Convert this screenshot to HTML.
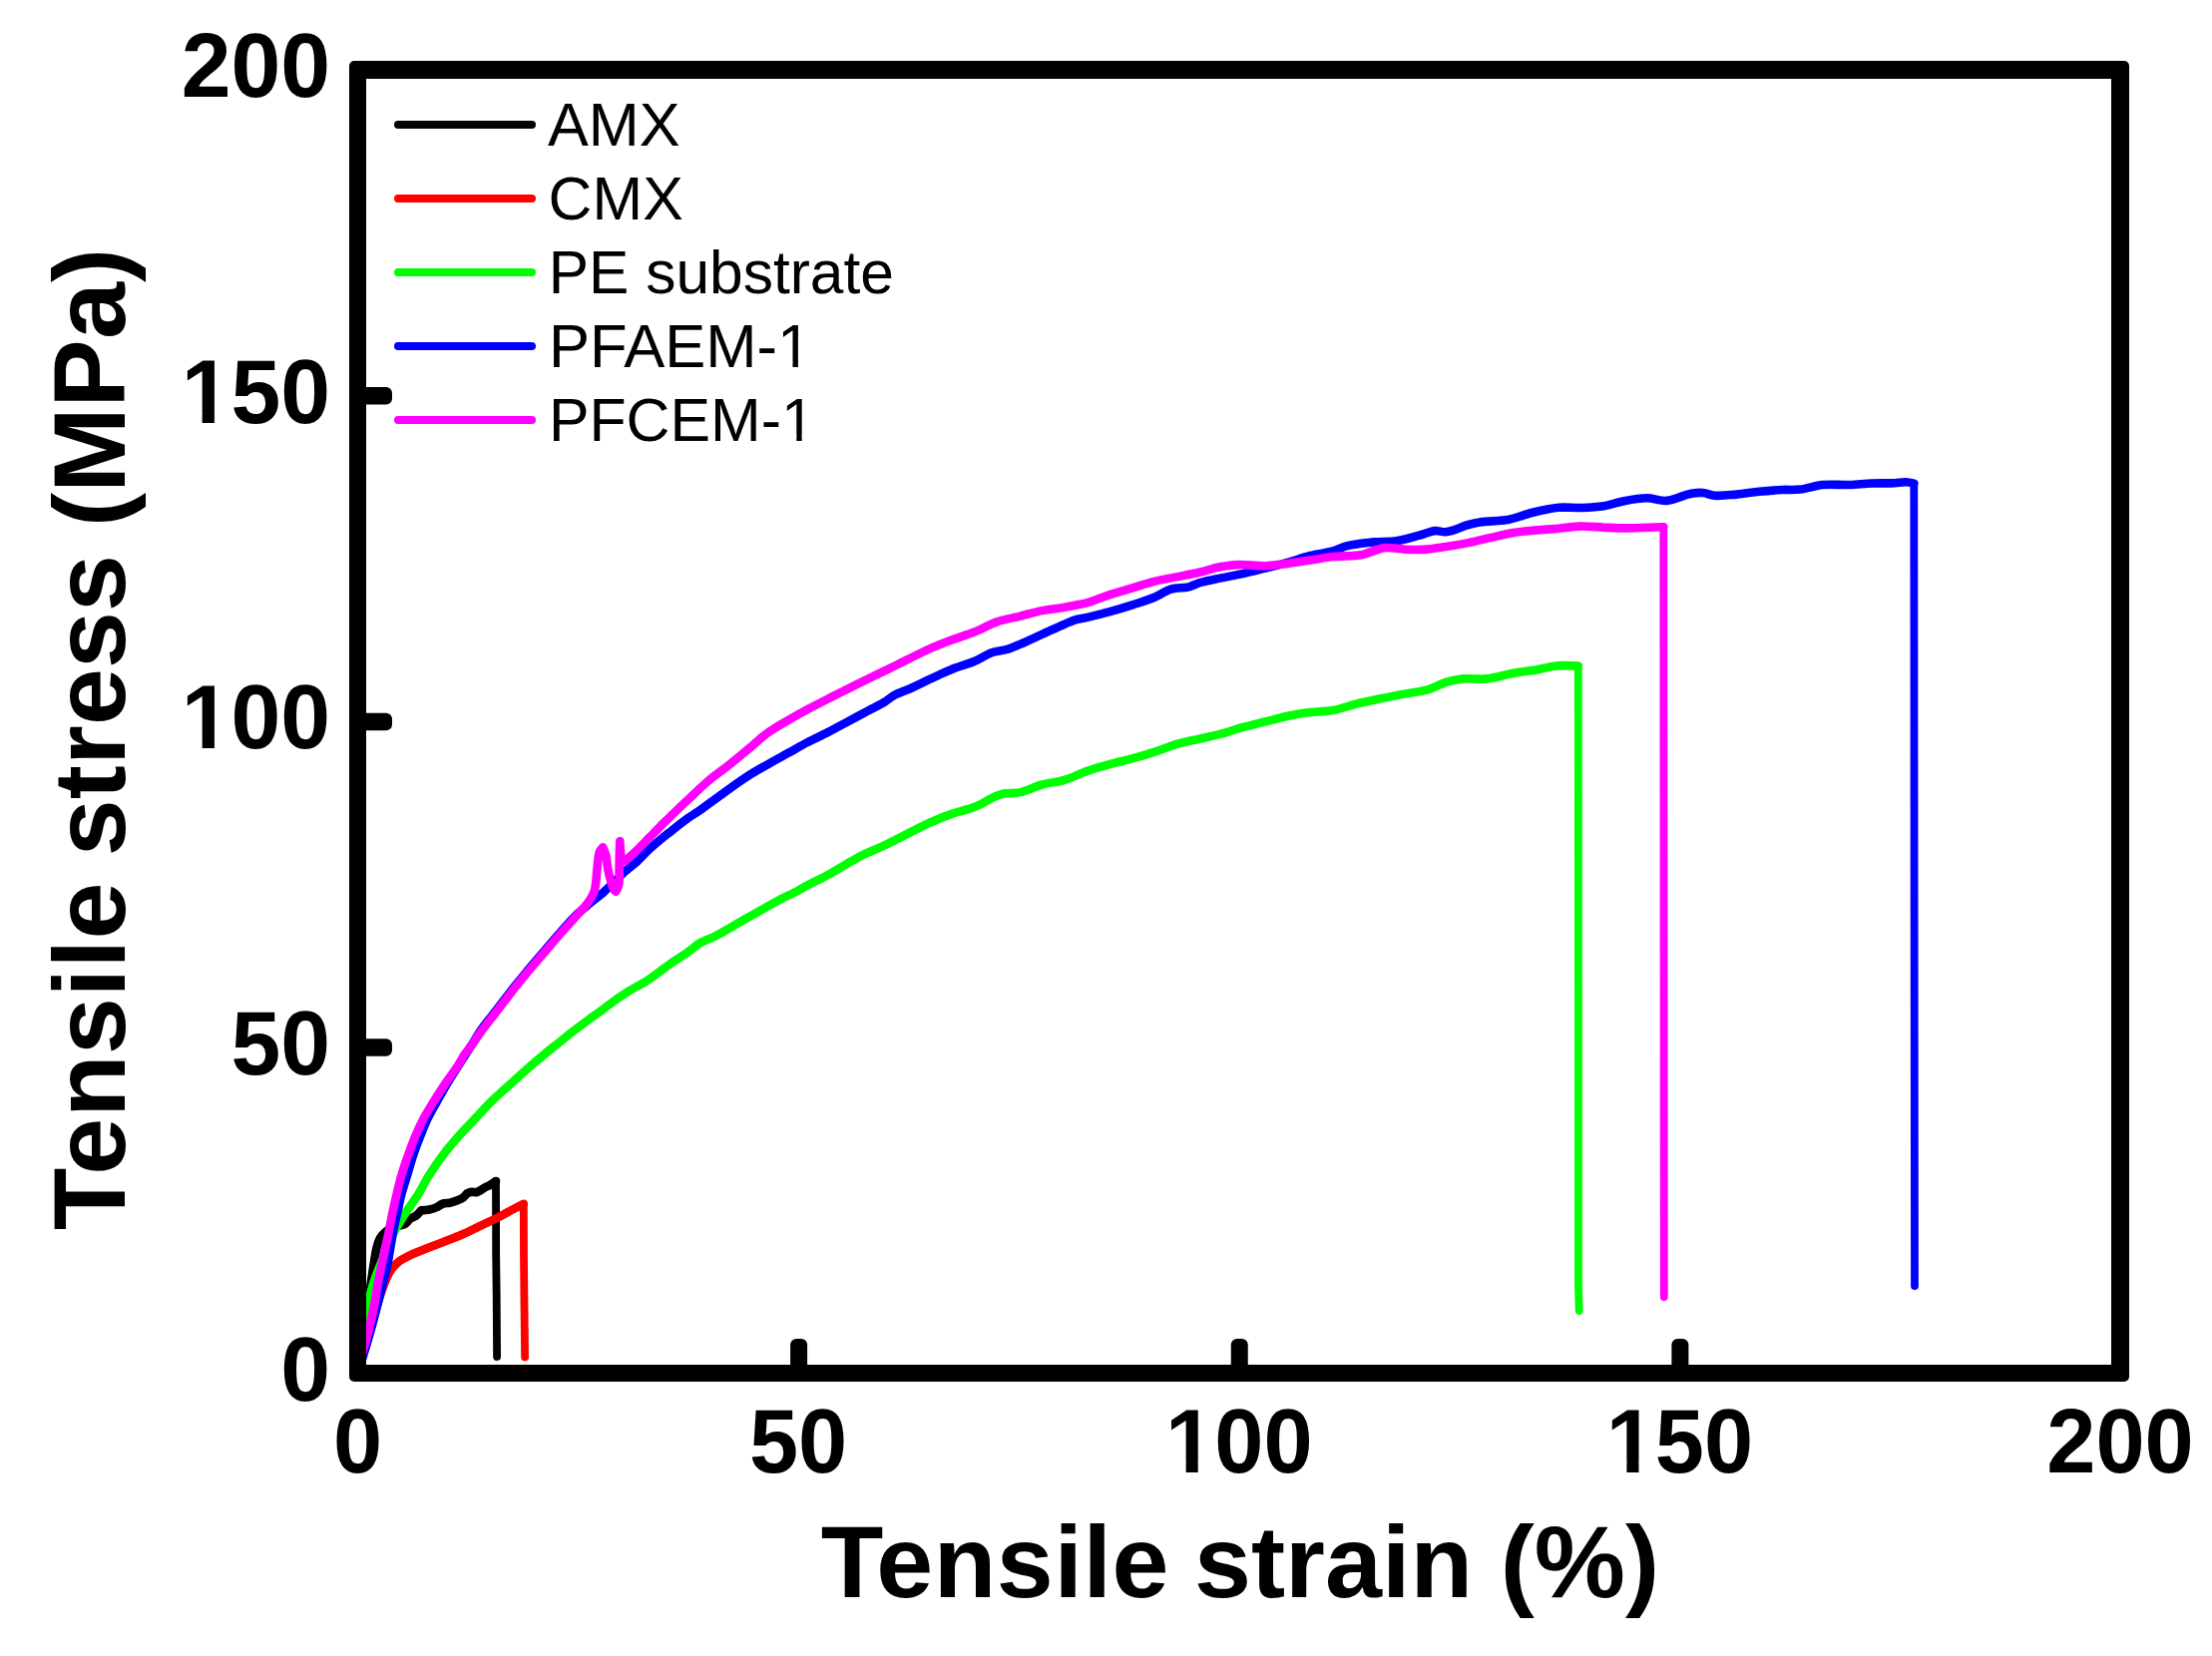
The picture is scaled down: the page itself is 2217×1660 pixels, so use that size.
<!DOCTYPE html>
<html><head><meta charset="utf-8"><title>Tensile stress-strain</title>
<style>html,body{margin:0;padding:0;background:#fff}svg{display:block}text{font-family:"Liberation Sans",sans-serif;fill:#000}.b{font-weight:bold}</style></head><body>
<svg width="2217" height="1660" viewBox="0 0 2217 1660">
<rect width="2217" height="1660" fill="#fff"/>
<defs><clipPath id="c"><rect x="358.5" y="70.0" width="1766.5" height="1306.5"/></clipPath></defs>
<g clip-path="url(#c)" fill="none" stroke-width="8.6" stroke-linejoin="round" stroke-linecap="round">
<path d="M358.5 1376.5 C358.5 1376.5 362.8 1346.8 365.0 1332.0 C367.2 1316.9 369.5 1301.9 371.7 1286.8 C372.6 1280.8 373.4 1274.7 374.4 1268.7 C375.4 1262.7 376.1 1256.5 377.6 1250.6 C378.4 1247.5 379.2 1244.3 380.7 1241.5 C381.8 1239.5 383.2 1237.6 384.9 1236.1 C387.0 1234.2 389.5 1232.7 392.0 1231.5 C394.2 1230.4 396.6 1229.8 399.0 1229.0 C401.2 1228.3 403.7 1228.2 405.7 1227.0 C407.9 1225.7 409.1 1223.1 411.2 1221.6 C412.8 1220.4 415.0 1220.1 416.6 1218.9 C418.7 1217.4 422.0 1213.4 422.0 1213.4 C422.0 1213.4 427.5 1213.1 430.2 1212.5 C433.0 1211.9 435.7 1211.0 438.3 1209.8 C440.2 1208.9 441.8 1207.3 443.8 1206.6 C446.1 1205.8 448.6 1206.2 451.0 1205.7 C453.8 1205.1 456.5 1204.1 459.2 1203.0 C460.7 1202.4 462.3 1201.8 463.7 1200.8 C465.4 1199.5 468.2 1196.2 468.2 1196.2 C468.2 1196.2 471.2 1195.0 472.8 1194.9 C474.3 1194.8 477.3 1195.3 477.3 1195.3 C477.3 1195.3 480.3 1193.9 481.8 1193.1 C483.3 1192.2 484.8 1191.1 486.3 1190.3 C487.8 1189.5 489.4 1188.9 490.9 1188.1 C493.0 1186.9 497.0 1184.0 497.0 1184.0" stroke="#000000"/>
<path d="M497.0 1184.0 L497.2 1260.0 L497.7 1300.0 L498.1 1360.0" stroke="#000000" stroke-width="7.8"/>
<path d="M358.5 1376.5 C358.5 1376.5 362.2 1364.2 364.0 1358.0 C366.7 1348.7 369.4 1339.3 372.0 1330.0 C374.4 1321.7 376.5 1313.3 379.0 1305.0 C380.5 1300.0 382.2 1294.9 384.0 1290.0 C385.4 1286.3 386.7 1282.5 388.5 1279.0 C389.8 1276.4 391.2 1273.7 393.0 1271.4 C395.1 1268.7 397.6 1266.2 400.3 1264.2 C403.0 1262.1 406.2 1260.7 409.3 1259.2 C415.2 1256.3 421.4 1254.0 427.5 1251.5 C433.5 1249.1 439.6 1246.9 445.6 1244.5 C451.7 1242.1 457.7 1239.8 463.7 1237.2 C469.8 1234.5 475.8 1231.5 481.8 1228.6 C487.8 1225.7 493.9 1223.0 499.9 1220.0 C506.0 1216.9 511.9 1213.4 518.0 1210.2 C520.2 1209.0 524.8 1206.8 524.8 1206.8" stroke="#ff0000"/>
<path d="M524.8 1206.8 L525.0 1260.0 L525.4 1300.0 L526.1 1360.5" stroke="#ff0000" stroke-width="7.8"/>
<path d="M358.5 1376.5 C358.5 1376.5 365.0 1324.5 370.8 1299.0 C372.2 1292.9 374.1 1286.9 376.1 1281.0 C377.8 1275.9 380.0 1271.0 382.0 1266.0 C385.9 1256.3 389.3 1246.4 394.0 1237.0 C397.9 1229.1 402.8 1221.7 407.5 1214.3 C411.4 1208.1 416.0 1202.4 419.8 1196.2 C423.1 1190.8 425.7 1184.9 429.1 1179.5 C434.0 1171.7 439.2 1164.1 444.8 1156.8 C449.4 1150.8 454.3 1145.1 459.3 1139.4 C465.0 1132.9 471.1 1126.8 477.0 1120.5 C482.6 1114.5 488.1 1108.4 494.0 1102.7 C500.5 1096.4 507.4 1090.5 514.1 1084.4 C521.7 1077.6 529.3 1070.8 537.0 1064.1 C539.6 1061.8 542.3 1059.5 545.0 1057.3 C548.6 1054.3 552.3 1051.4 556.0 1048.5 C562.3 1043.5 568.6 1038.3 575.0 1033.4 C581.5 1028.4 588.0 1023.6 594.6 1018.8 C598.0 1016.3 601.6 1013.9 605.0 1011.3 C606.7 1010.0 608.3 1008.6 610.0 1007.4 C616.5 1002.6 623.2 998.0 630.0 993.7 C636.5 989.6 643.6 986.3 650.0 982.1 C656.9 977.6 663.2 972.2 670.0 967.4 C676.6 962.8 683.5 958.7 690.0 954.0 C693.8 951.3 697.2 947.9 701.2 945.5 C706.2 942.5 711.8 940.9 717.0 938.3 C718.0 937.8 719.0 937.2 720.0 936.7 C726.7 933.0 733.3 929.1 740.0 925.3 C746.7 921.5 753.3 917.7 760.0 913.9 C766.7 910.1 773.2 906.3 780.0 902.7 C786.6 899.2 793.4 896.2 800.0 892.7 C802.6 891.3 805.0 889.7 807.6 888.3 C815.1 884.3 822.9 880.9 830.3 876.8 C838.0 872.6 845.3 867.8 852.9 863.5 C856.3 861.6 859.7 859.6 863.2 857.8 C870.6 854.1 878.4 851.2 885.9 847.6 C893.5 844.0 901.0 840.1 908.5 836.3 C916.1 832.5 923.5 828.5 931.2 825.0 C938.6 821.7 946.1 818.6 953.8 815.9 C961.2 813.3 969.1 812.0 976.4 809.1 C984.3 806.0 991.3 801.0 999.1 797.8 C1001.3 796.9 1003.6 796.0 1005.9 795.5 C1011.1 794.5 1016.5 795.5 1021.7 794.4 C1029.5 792.8 1036.7 788.6 1044.4 786.5 C1051.8 784.5 1059.6 784.1 1067.0 781.9 C1074.8 779.6 1082.0 775.6 1089.7 772.9 C1097.1 770.3 1104.7 768.2 1112.3 766.1 C1119.8 764.0 1127.5 762.5 1135.0 760.4 C1142.6 758.3 1150.1 756.0 1157.6 753.6 C1165.2 751.1 1172.6 747.9 1180.3 745.7 C1187.7 743.6 1195.4 742.2 1202.9 740.5 C1209.5 739.0 1216.1 737.6 1222.6 735.9 C1230.2 733.9 1237.7 731.2 1245.3 729.1 C1252.8 727.0 1260.4 725.3 1267.9 723.4 C1275.5 721.5 1283.0 719.5 1290.6 717.8 C1296.6 716.5 1302.6 715.2 1308.7 714.4 C1317.7 713.2 1326.9 713.7 1335.9 712.1 C1343.6 710.7 1350.9 707.7 1358.5 705.8 C1366.0 703.9 1373.6 702.4 1381.2 700.8 C1388.7 699.2 1396.3 697.8 1403.8 696.3 C1413.6 694.4 1423.7 693.5 1433.2 690.6 C1438.7 688.9 1443.6 685.5 1449.1 683.8 C1455.0 682.0 1461.1 681.0 1467.2 680.4 C1474.7 679.7 1482.4 681.2 1489.9 680.4 C1499.1 679.5 1507.9 676.4 1517.0 674.8 C1524.5 673.5 1532.2 672.6 1539.7 671.4 C1547.3 670.1 1554.7 667.9 1562.3 667.3 C1568.8 666.8 1581.8 667.6 1581.8 667.6" stroke="#00ff00"/>
<path d="M1581.8 667.6 L1582.0 1000.0 L1582.0 1290.0 L1582.7 1314.0" stroke="#00ff00" stroke-width="7.8"/>
<path d="M358.5 1376.5 C358.5 1376.5 361.9 1365.8 363.6 1360.4 C366.4 1351.4 369.2 1342.3 371.7 1333.2 C374.2 1324.2 376.5 1315.1 378.8 1306.1 C380.4 1299.7 382.0 1293.2 383.6 1286.8 C385.1 1280.8 386.9 1274.8 388.2 1268.7 C389.5 1262.7 390.3 1256.6 391.3 1250.6 C392.4 1244.6 393.3 1238.5 394.5 1232.5 C395.7 1226.4 397.2 1220.4 398.6 1214.3 C399.9 1208.3 401.0 1202.2 402.6 1196.2 C404.1 1190.6 406.0 1185.1 407.7 1179.5 C410.0 1171.9 412.0 1164.3 414.5 1156.8 C416.6 1150.7 418.9 1144.7 421.3 1138.7 C423.7 1132.6 426.0 1126.5 428.9 1120.6 C431.9 1114.4 435.5 1108.5 438.9 1102.5 C442.3 1096.4 445.7 1090.3 449.3 1084.3 C453.0 1078.2 456.9 1072.2 460.7 1066.2 C464.6 1060.1 468.6 1054.2 472.4 1048.1 C475.4 1043.4 478.0 1038.5 481.1 1033.9 C485.7 1027.2 491.0 1021.0 495.9 1014.6 C500.9 1008.1 505.8 1001.7 510.8 995.2 C513.4 991.9 515.9 988.6 518.5 985.3 C521.1 982.1 523.7 979.0 526.3 975.9 C531.7 969.4 537.2 963.0 542.7 956.6 C548.2 950.2 553.6 943.7 559.2 937.3 C564.9 930.9 570.4 924.2 576.5 918.2 C580.8 914.0 585.4 910.3 590.0 906.5 C595.0 902.3 600.2 898.5 605.1 894.2 C612.7 887.5 619.4 879.8 627.0 873.0 C630.5 869.8 634.5 867.2 638.0 864.0 C642.2 860.2 645.9 855.9 650.0 852.0 C654.4 847.9 659.0 844.0 663.6 840.2 C665.7 838.5 667.9 836.9 670.0 835.2 C676.6 830.0 683.2 824.7 690.0 819.8 C693.3 817.5 696.7 815.5 700.0 813.2 C703.4 810.9 706.7 808.4 710.0 806.0 C716.7 801.2 723.3 796.3 730.0 791.5 C736.6 786.8 743.2 782.1 750.0 777.7 C756.5 773.5 763.3 769.7 770.0 765.9 C776.6 762.1 783.3 758.5 790.0 754.8 C796.7 751.1 803.3 747.3 810.0 743.8 C816.6 740.4 823.4 737.3 830.0 733.9 C836.7 730.4 843.3 726.8 850.0 723.2 C856.7 719.6 863.3 716.1 870.0 712.5 C875.3 709.7 880.8 707.1 886.0 704.0 C889.8 701.7 893.1 698.6 897.0 696.5 C900.6 694.5 904.7 693.5 908.5 691.8 C916.2 688.5 923.6 684.7 931.2 681.2 C938.7 677.8 946.1 674.1 953.8 671.0 C961.2 668.0 969.0 666.1 976.4 663.0 C982.6 660.4 988.2 656.2 994.6 654.0 C999.7 652.2 1005.2 652.2 1010.4 650.6 C1014.3 649.4 1018.0 647.7 1021.7 646.1 C1029.3 642.9 1036.8 639.3 1044.4 635.9 C1051.9 632.5 1059.4 628.9 1067.0 625.7 C1070.8 624.1 1074.5 622.3 1078.4 621.1 C1082.1 620.0 1086.0 619.7 1089.7 618.9 C1097.3 617.2 1104.8 615.3 1112.3 613.2 C1119.9 611.1 1127.5 608.8 1135.0 606.4 C1142.6 603.9 1150.2 601.6 1157.6 598.5 C1163.1 596.2 1167.8 592.3 1173.5 590.6 C1179.3 588.8 1185.7 589.8 1191.6 588.3 C1195.5 587.3 1199.0 585.2 1202.9 584.0 C1209.3 582.1 1216.0 581.0 1222.6 579.6 C1230.1 578.0 1237.8 576.8 1245.3 575.1 C1252.9 573.4 1260.4 571.4 1267.9 569.5 C1275.5 567.6 1283.1 565.9 1290.6 563.8 C1298.2 561.7 1305.6 558.9 1313.2 557.0 C1320.7 555.1 1328.5 554.6 1335.9 552.5 C1340.6 551.2 1344.8 548.5 1349.5 547.3 C1358.3 545.0 1367.5 544.3 1376.6 543.4 C1384.1 542.7 1391.8 543.4 1399.3 542.3 C1408.5 540.9 1417.4 538.0 1426.4 535.5 C1430.2 534.5 1433.9 532.5 1437.8 532.1 C1441.6 531.7 1445.3 533.6 1449.1 533.2 C1457.0 532.4 1464.1 528.0 1471.7 526.0 C1475.5 525.0 1479.3 524.1 1483.1 523.5 C1492.8 522.0 1502.8 522.7 1512.5 520.8 C1520.2 519.3 1527.5 515.9 1535.1 514.0 C1544.1 511.8 1553.1 509.6 1562.3 508.8 C1569.8 508.1 1577.4 509.3 1585.0 509.0 C1592.6 508.7 1600.1 508.4 1607.6 507.2 C1613.7 506.2 1619.6 503.9 1625.7 502.7 C1633.9 501.1 1642.2 499.3 1650.6 499.3 C1657.3 499.3 1663.8 502.4 1670.4 501.9 C1679.0 501.2 1686.8 496.2 1695.3 494.7 C1699.0 494.1 1702.8 493.7 1706.6 494.0 C1710.5 494.3 1714.0 496.3 1717.9 496.7 C1725.4 497.4 1733.1 496.2 1740.6 495.6 C1748.2 494.9 1755.6 493.6 1763.2 492.8 C1770.8 492.0 1778.3 491.4 1785.9 491.0 C1791.9 490.7 1798.0 491.3 1804.0 490.6 C1811.6 489.7 1819.0 486.8 1826.6 486.0 C1835.6 485.1 1844.7 486.3 1853.8 486.0 C1861.3 485.7 1868.9 484.8 1876.4 484.5 C1884.0 484.2 1891.5 484.6 1899.1 484.2 C1902.9 484.0 1906.6 483.1 1910.4 483.3 C1913.1 483.4 1918.3 484.6 1918.3 484.6" stroke="#0000ff"/>
<path d="M1918.3 484.6 L1918.6 900.0 L1919.0 1289.0" stroke="#0000ff" stroke-width="7.8"/>
<path d="M358.5 1376.5 C358.5 1376.5 361.8 1362.1 363.6 1355.0 C365.5 1347.7 367.8 1340.5 369.6 1333.2 C371.8 1324.2 373.8 1315.2 375.5 1306.1 C376.7 1299.7 377.5 1293.2 378.7 1286.8 C379.8 1280.7 381.1 1274.7 382.4 1268.7 C383.7 1262.7 385.1 1256.6 386.4 1250.6 C387.7 1244.6 388.9 1238.5 390.1 1232.5 C391.3 1226.4 392.4 1220.3 393.7 1214.3 C395.0 1208.2 396.4 1202.2 397.8 1196.2 C399.1 1190.6 400.4 1185.0 402.0 1179.5 C404.2 1171.8 406.8 1164.3 409.5 1156.8 C411.7 1150.7 413.9 1144.6 416.4 1138.7 C419.0 1132.6 421.8 1126.5 424.9 1120.6 C428.2 1114.4 432.0 1108.5 435.7 1102.5 C439.6 1096.3 443.6 1090.3 447.7 1084.3 C451.8 1078.2 456.3 1072.4 460.2 1066.2 C461.9 1063.5 463.2 1060.6 464.9 1058.0 C467.2 1054.5 470.0 1051.4 472.4 1048.1 C475.6 1043.7 478.6 1039.0 481.8 1034.6 C486.6 1028.1 491.7 1021.7 496.6 1015.3 C501.6 1008.8 506.5 1002.4 511.5 995.9 C514.1 992.6 516.6 989.3 519.2 986.0 C521.8 982.8 524.4 979.7 527.0 976.6 C532.4 970.1 537.9 963.7 543.4 957.3 C548.9 950.9 554.3 944.4 559.9 938.0 C565.6 931.5 571.4 925.0 577.2 918.6 C580.0 915.4 583.1 912.5 585.8 909.2 C587.9 906.7 589.9 904.2 591.6 901.4 C593.1 899.0 594.5 896.4 595.5 893.7 C596.3 891.5 596.5 889.3 596.9 887.0 C597.4 883.8 597.6 880.5 597.9 877.3 C598.4 872.5 598.7 867.6 599.3 862.8 C599.7 859.9 599.7 856.8 600.8 854.1 C601.6 852.3 604.2 849.3 604.2 849.3 C604.2 849.3 606.7 855.0 607.5 858.0 C608.4 861.8 608.3 865.8 609.0 869.6 C609.8 873.8 610.7 878.0 611.9 882.1 C612.7 885.0 613.3 888.1 614.8 890.8 C615.4 891.9 617.2 893.7 617.2 893.7 C617.2 893.7 619.6 889.4 620.1 887.0 C621.2 882.3 620.5 877.3 620.6 872.5 C620.7 867.7 620.7 862.8 620.8 858.0 C620.9 853.1 621.3 843.2 621.3 843.2 L622.3 858.0 L626.4 863.3 C626.4 863.3 634.2 856.3 638.0 852.7 C641.3 849.5 644.4 846.1 647.6 842.8 C650.0 840.3 652.6 837.9 655.0 835.4 C658.4 832.0 661.6 828.5 665.0 825.1 C668.3 821.8 671.7 818.7 675.0 815.5 C678.3 812.3 681.6 809.1 685.0 805.9 C688.3 802.7 691.7 799.6 695.0 796.5 C698.3 793.4 701.6 790.1 705.0 787.1 C708.3 784.2 711.6 781.4 715.0 778.7 C719.9 774.8 725.1 771.2 730.0 767.3 C736.8 762.0 743.4 756.4 750.0 750.9 C756.7 745.4 762.9 739.3 770.0 734.2 C776.4 729.6 783.2 725.8 790.0 721.9 C796.6 718.1 803.3 714.4 810.0 710.8 C816.6 707.3 823.3 703.9 830.0 700.5 C836.7 697.1 843.3 693.7 850.0 690.4 C856.7 687.1 863.3 683.8 870.0 680.5 C876.7 677.2 883.3 674.1 890.0 670.8 C896.2 667.8 902.3 664.7 908.5 661.7 C916.1 658.0 923.5 654.0 931.2 650.6 C938.6 647.3 946.2 644.4 953.8 641.5 C961.3 638.7 969.0 636.6 976.4 633.6 C984.1 630.5 991.3 626.1 999.1 623.4 C1006.4 620.9 1014.2 619.7 1021.7 617.8 C1029.3 615.9 1036.8 613.6 1044.4 612.1 C1051.9 610.6 1059.5 610.0 1067.0 608.7 C1074.6 607.4 1082.3 606.2 1089.7 604.2 C1097.4 602.1 1104.7 598.7 1112.3 596.2 C1119.8 593.7 1127.4 591.7 1135.0 589.4 C1142.5 587.2 1150.0 584.6 1157.6 582.7 C1165.1 580.8 1172.7 579.6 1180.3 578.1 C1187.8 576.6 1195.4 575.2 1202.9 573.5 C1209.5 572.0 1215.9 569.6 1222.6 568.3 C1228.6 567.2 1234.7 566.3 1240.8 566.1 C1249.8 565.7 1258.9 567.5 1267.9 567.2 C1275.5 567.0 1283.1 565.8 1290.6 564.9 C1298.2 563.9 1305.7 562.6 1313.2 561.5 C1320.8 560.4 1328.3 559.0 1335.9 558.1 C1345.7 557.0 1355.6 557.7 1365.3 555.9 C1373.1 554.5 1380.1 549.9 1388.0 549.1 C1394.7 548.4 1401.5 550.4 1408.3 550.7 C1414.3 551.0 1420.4 551.2 1426.4 550.9 C1434.0 550.5 1441.6 549.1 1449.1 548.0 C1456.7 546.9 1464.2 545.6 1471.7 544.1 C1479.3 542.6 1486.8 540.6 1494.4 538.9 C1501.9 537.2 1509.4 535.2 1517.0 533.9 C1524.5 532.7 1532.1 532.1 1539.7 531.4 C1547.2 530.7 1554.8 530.5 1562.3 529.8 C1569.1 529.2 1575.9 527.8 1582.7 527.6 C1591.0 527.3 1599.3 528.4 1607.6 528.7 C1615.2 529.0 1622.7 529.4 1630.3 529.4 C1637.8 529.4 1645.4 528.9 1652.9 528.7 C1657.7 528.5 1667.3 528.2 1667.3 528.2" stroke="#ff00ff"/>
<path d="M1667.3 528.2 L1667.6 1000.0 L1667.8 1300.0" stroke="#ff00ff" stroke-width="7.8"/>
</g>
<g fill="#000">
<rect x="358" y="1041.28" width="35" height="17.5" rx="6"/>
<rect x="792.12" y="1342" width="17" height="35" rx="6"/>
<rect x="358" y="714.65" width="35" height="17.5" rx="6"/>
<rect x="1233.75" y="1342" width="17" height="35" rx="6"/>
<rect x="358" y="388.02" width="35" height="17.5" rx="6"/>
<rect x="1675.38" y="1342" width="17" height="35" rx="6"/>
</g>
<path fill="#000" fill-rule="evenodd" d="M355 61H2129a5 5 0 0 1 5 5V1380a5 5 0 0 1 -5 5H355a5 5 0 0 1 -5 -5V66a5 5 0 0 1 5 -5ZM367 79V1368H2116V79Z"/>
<text class="b" x="331" y="1403.5" font-size="90.7" text-anchor="end" textLength="49.78" lengthAdjust="spacingAndGlyphs">0</text>
<text class="b" x="331" y="1076.9" font-size="90.7" text-anchor="end" textLength="99.56" lengthAdjust="spacingAndGlyphs">50</text>
<text class="b" x="331" y="750.2" font-size="90.7" text-anchor="end" textLength="149.35" lengthAdjust="spacingAndGlyphs">100</text>
<text class="b" x="331" y="423.6" font-size="90.7" text-anchor="end" textLength="149.35" lengthAdjust="spacingAndGlyphs">150</text>
<text class="b" x="331" y="97.0" font-size="90.7" text-anchor="end" textLength="149.35" lengthAdjust="spacingAndGlyphs">200</text>
<text class="b" x="358.5" y="1476" font-size="90.7" text-anchor="middle" textLength="49.18" lengthAdjust="spacingAndGlyphs">0</text>
<text class="b" x="800.1" y="1476" font-size="90.7" text-anchor="middle" textLength="98.35" lengthAdjust="spacingAndGlyphs">50</text>
<text class="b" x="1241.8" y="1476" font-size="90.7" text-anchor="middle" textLength="147.53" lengthAdjust="spacingAndGlyphs">100</text>
<text class="b" x="1683.4" y="1476" font-size="90.7" text-anchor="middle" textLength="147.53" lengthAdjust="spacingAndGlyphs">150</text>
<text class="b" x="2125.0" y="1476" font-size="90.7" text-anchor="middle" textLength="147.53" lengthAdjust="spacingAndGlyphs">200</text>
<text class="b" y="1601" font-size="102.5"><tspan x="822.66" letter-spacing="0.53">Tensile</tspan> <tspan x="1196.9">strain</tspan> <tspan x="1503.7">(%)</tspan></text>
<text class="b" transform="translate(125,0) rotate(-90)" y="0" font-size="102.5"><tspan x="-1233.2" letter-spacing="0.53">Tensile</tspan> <tspan x="-858.15">stress</tspan> <tspan x="-528">(MPa)</tspan></text>
<line x1="399" y1="125" x2="533" y2="125" stroke="#000000" stroke-width="8" stroke-linecap="round"/>
<text x="548.9" y="146" font-size="61.5" textLength="132.57" lengthAdjust="spacingAndGlyphs">AMX</text>
<line x1="399" y1="199" x2="533" y2="199" stroke="#ff0000" stroke-width="8" stroke-linecap="round"/>
<text x="549.6" y="220" font-size="61.5" textLength="135.11" lengthAdjust="spacingAndGlyphs">CMX</text>
<line x1="399" y1="273" x2="533" y2="273" stroke="#00ff00" stroke-width="8" stroke-linecap="round"/>
<text x="549.7" y="294" font-size="61.5" textLength="346.25" lengthAdjust="spacingAndGlyphs">PE substrate</text>
<line x1="399" y1="347" x2="533" y2="347" stroke="#0000ff" stroke-width="8" stroke-linecap="round"/>
<text x="549.9" y="368" font-size="61.5" textLength="263.42" lengthAdjust="spacingAndGlyphs">PFAEM-1</text>
<line x1="399" y1="421" x2="533" y2="421" stroke="#ff00ff" stroke-width="8" stroke-linecap="round"/>
<text x="549.9" y="442" font-size="61.5" textLength="266.97" lengthAdjust="spacingAndGlyphs">PFCEM-1</text>
<g fill="#fff">
<rect x="1172.08" y="1465.75" width="16.56" height="11.75"/>
<rect x="1200.73" y="1465.75" width="15.44" height="11.75"/>
<rect x="1613.84" y="1465.75" width="16.56" height="11.75"/>
<rect x="1642.49" y="1465.75" width="15.44" height="11.75"/>
<rect x="185.91" y="739.75" width="16.74" height="11.75"/>
<rect x="214.91" y="739.75" width="15.64" height="11.75"/>
<rect x="185.91" y="413.75" width="16.74" height="11.75"/>
<rect x="214.91" y="413.75" width="15.64" height="11.75"/>
<rect x="782.19" y="362.51" width="12.30" height="6.99"/>
<rect x="799.91" y="362.51" width="11.82" height="6.99"/>
<rect x="786.14" y="436.51" width="12.18" height="6.99"/>
<rect x="803.66" y="436.51" width="11.69" height="6.99"/>
</g>
</svg></body></html>
